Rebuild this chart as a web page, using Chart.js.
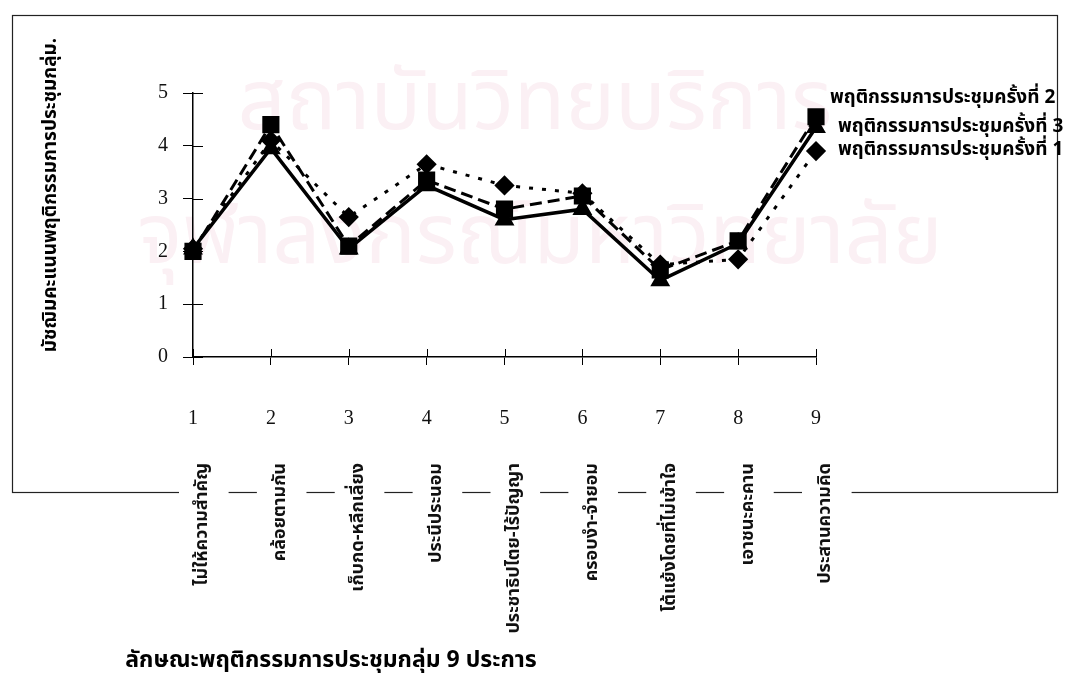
<!DOCTYPE html>
<html>
<head>
<meta charset="utf-8">
<script src="https://cdn.jsdelivr.net/npm/chart.js@4/dist/chart.umd.min.js"></script>
<style>
  html, body { margin: 0; background: #fff; }
  #wrap { width: 1069px; height: 679px; }
</style>
</head>
<body>
<div id="wrap"><canvas id="chart"></canvas></div>
<script>
// data
const numbers = ["1", "2", "3", "4", "5", "6", "7", "8", "9"];
const categories = [
  "ไม่ให้ความสำคัญ",
  "คล้อยตามกัน",
  "เก็บกด-หลีกเลี่ยง",
  "ประนีประนอม",
  "ประชาธิปไตย-ไร้ปัญญา",
  "ครอบงำ-จำยอม",
  "โต้แย้งโดยที่ไม่เข้าใจ",
  "เอาชนะคะคาน",
  "ประสานความคิด"
];
const seriesNames = [
  "พฤติกรรมการประชุมครั้งที่ 1",
  "พฤติกรรมการประชุมครั้งที่ 2",
  "พฤติกรรมการประชุมครั้งที่ 3"
];
const meeting1 = [2.05, 4.1, 2.65, 3.65, 3.25, 3.1, 1.75, 1.85, 3.9];
const meeting2 = [2.05, 3.95, 2.05, 3.25, 2.6, 2.8, 1.45, 2.15, 4.35];
const meeting3 = [2.0, 4.4, 2.1, 3.35, 2.8, 3.05, 1.65, 2.2, 4.55];
const yTitle = "มัชฌิมคะแนนพฤติกรรมการประชุมกลุ่ม.";
const xTitle = "ลักษณะพฤติกรรมการประชุมกลุ่ม 9 ประการ";

const serif = '"Liberation Serif", "DejaVu Serif", serif';
const thai = '"Noto Sans Thai", "Noto Sans", "DejaVu Sans", sans-serif';

// page frame + faint library watermark, drawn under everything
const backdrop = {
  id: "backdrop",
  beforeDraw(chart) {
    const ctx = chart.ctx;
    ctx.save();
    ctx.fillStyle = "#fbf0f4";
    ctx.font = "84px " + thai;
    ctx.textAlign = "center";
    ctx.textBaseline = "middle";
    ctx.fillText("สถาบันวิทยบริการ", 535, 112);
    ctx.fillText("จุฬาลงกรณ์มหาวิทยาลัย", 540, 246);
    ctx.strokeStyle = "#222";
    ctx.lineWidth = 1.2;
    ctx.strokeRect(12.5, 15.5, 1045, 477);
    ctx.restore();
  }
};

// short tick marks on the inner side of both axes
const innerTicks = {
  id: "innerTicks",
  afterDraw(chart) {
    const ctx = chart.ctx;
    const { x, y } = chart.scales;
    ctx.save();
    ctx.strokeStyle = "#000";
    ctx.lineWidth = 1;
    ctx.beginPath();
    y.ticks.forEach((t, i) => {
      const py = Math.round(y.getPixelForTick(i)) + 0.5;
      ctx.moveTo(x.left, py);
      ctx.lineTo(x.left + 10, py);
    });
    x.ticks.forEach((t, i) => {
      const px = Math.round(x.getPixelForTick(i)) + 0.5;
      ctx.moveTo(px, y.bottom);
      ctx.lineTo(px, y.bottom - 8);
    });
    ctx.stroke();
    ctx.restore();
  }
};

// series names written next to the last point, as in the original
const seriesLabels = {
  id: "seriesLabels",
  afterDatasetsDraw(chart) {
    const ctx = chart.ctx;
    ctx.save();
    ctx.font = "bold 19px " + thai;
    ctx.fillStyle = "#000";
    ctx.textAlign = "left";
    ctx.textBaseline = "middle";
    chart.data.datasets.forEach((ds, i) => {
      const pts = chart.getDatasetMeta(i).data;
      const p = pts[pts.length - 1];
      ctx.fillText(ds.label, p.x + ds.labelShift[0], p.y + ds.labelShift[1]);
    });
    ctx.restore();
  }
};

// both axis titles sit off-centre in the scan, so they are drawn here
const axisTitles = {
  id: "axisTitles",
  afterDraw(chart) {
    const ctx = chart.ctx;
    const area = chart.chartArea;
    ctx.save();
    ctx.fillStyle = "#000";
    ctx.textAlign = "center";
    ctx.textBaseline = "middle";
    ctx.font = "bold 23px " + thai;
    ctx.fillText(xTitle, area.left + 138, 662);
    ctx.translate(52, area.top + 102);
    ctx.rotate(-Math.PI / 2);
    ctx.font = "bold 19px " + thai;
    ctx.fillText(yTitle, 0, 0);
    ctx.restore();
  }
};

new Chart(document.getElementById("chart"), {
  type: "line",
  data: {
    labels: numbers,
    datasets: [
      {
        label: seriesNames[0],
        data: meeting1,
        borderColor: "#000",
        backgroundColor: "#000",
        borderWidth: 3,
        borderDash: [4, 9],
        pointStyle: "rectRot",
        pointRadius: 8,
        labelShift: [22, 0]
      },
      {
        label: seriesNames[2],
        data: meeting3,
        borderColor: "#000",
        backgroundColor: "#000",
        borderWidth: 3,
        borderDash: [12, 6],
        pointStyle: "rect",
        pointRadius: 10,
        labelShift: [22, 11]
      },
      {
        label: seriesNames[1],
        data: meeting2,
        borderColor: "#000",
        backgroundColor: "#000",
        borderWidth: 3.5,
        pointStyle: "triangle",
        pointRadius: 8,
        labelShift: [14, -28]
      }
    ]
  },
  options: {
    responsive: true,
    maintainAspectRatio: false,
    animation: false,
    layout: { padding: { left: 40, right: 253, top: 93, bottom: 0 } },
    plugins: {
      legend: { display: false },
      tooltip: { enabled: false }
    },
    scales: {
      x: {
        type: "category",
        offset: false,
        border: { color: "#000", width: 1.5 },
        grid: { drawOnChartArea: false, color: "#000", tickLength: 8 },
        ticks: {
          color: "#111",
          font: { family: serif, size: 20 },
          padding: 42,
          maxRotation: 0,
          autoSkip: false
        },
        afterFit(s) { s.height = 80; }
      },
      x2: {
        type: "category",
        labels: categories,
        position: "bottom",
        offset: false,
        border: { display: false },
        grid: { display: false },
        ticks: {
          color: "#111",
          font: { family: thai, size: 18, weight: "bold" },
          padding: 18,
          minRotation: 90,
          maxRotation: 90,
          autoSkip: false,
          showLabelBackdrop: true,
          backdropColor: "#fff",
          backdropPadding: { left: 2, right: 2, top: 14, bottom: 14 }
        },
        afterFit(s) { s.height = 242; }
      },
      y: {
        min: 0,
        max: 5,
        border: { color: "#000", width: 1.5 },
        grid: { drawOnChartArea: false, color: "#000", tickLength: 10 },
        ticks: {
          stepSize: 1,
          color: "#111",
          padding: 15,
          font: { family: serif, size: 20 }
        },
        afterFit(s) { s.width = 153; }
      }
    }
  },
  plugins: [backdrop, innerTicks, seriesLabels, axisTitles]
});
</script>
</body>
</html>
